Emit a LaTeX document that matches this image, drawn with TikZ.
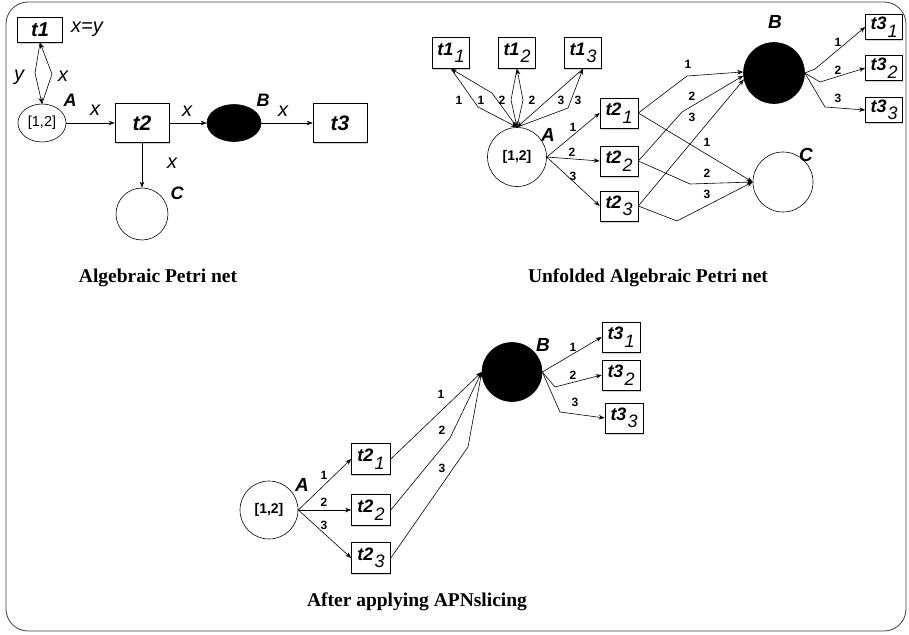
\documentclass[tikz,border=0pt]{standalone}
\usepackage{fontspec}
\setmainfont{Liberation Serif}
\setsansfont{Liberation Sans}
\usetikzlibrary{arrows.meta,shapes.geometric,shadows}
\newcommand{\tsb}[2]{\textbf{\textit{#1}}\kern1pt\raisebox{-0.42em}{\textit{#2}}}
\tikzset{
  trans/.style={draw, fill=white, line width=0.6pt, inner sep=0pt,
    drop shadow={shadow xshift=0.8pt, shadow yshift=-1.6pt, opacity=0.35},
    font=\sffamily\bfseries\itshape\fontsize{21}{24}\selectfont},
  utrans/.style={draw, fill=white, line width=0.6pt, inner sep=0pt,
    minimum width=38pt, minimum height=30pt,
    drop shadow={shadow xshift=0.8pt, shadow yshift=-1.6pt, opacity=0.35},
    font=\sffamily\fontsize{18}{20}\selectfont},
  place/.style={draw, ellipse, line width=0.6pt, inner sep=0pt},
  arc/.style={-{Stealth[length=6pt,width=4.5pt]}, line width=0.6pt},
  lbl/.style={font=\sffamily\bfseries\itshape\fontsize{18}{20}\selectfont, inner sep=0pt},
  ulbl/.style={font=\sffamily\bfseries\itshape\fontsize{19}{21}\selectfont, inner sep=0pt},
  vlab/.style={font=\sffamily\itshape\fontsize{20}{22}\selectfont, inner sep=0pt},
  num/.style={font=\sffamily\bfseries\fontsize{12}{14}\selectfont, inner sep=0pt},
  captxt/.style={font=\rmfamily\bfseries\fontsize{19.5}{22}\selectfont, inner sep=0pt},
  mark12/.style={font=\sffamily\bfseries\fontsize{14}{16}\selectfont},
}
\begin{document}
\begin{tikzpicture}[x=1pt,y=-1pt]
\useasboundingbox (0,0) rectangle (909,634);
\draw[line width=0.8pt, draw=black!75, rounded corners=22pt] (6,2) rectangle (906,631);

% ---------------- Algebraic Petri net ----------------
\node[trans, minimum width=45pt, minimum height=25pt, font=\sffamily\bfseries\itshape\fontsize{20}{22}\selectfont] (t1) at (40,30) {t1};
\node[vlab] (xy) at (87,29) {x=y};
\node[place, minimum width=48pt, minimum height=38pt, font=\sffamily\fontsize{14.5}{16}\selectfont] (A) at (42,123) {[1,2]};
\node[lbl] (Al) at (70,100) {A};
\coordinate (b1) at (35,73);
\coordinate (b2) at (52,74);
\draw[arc] (t1.south) -- (b1) -- (A.north);
\draw[arc] (A.north) -- (b2) -- (t1.south);
\node[vlab] (ly) at (19,77) {y};
\node[vlab] (lx1) at (63,76) {x};
\node[trans, minimum width=54pt, minimum height=39pt] (t2) at (142,123) {t2};
\node[trans, minimum width=54pt, minimum height=39pt] (t3) at (340,123) {t3};
\node[place, fill=black, minimum width=54pt, minimum height=37pt] (B) at (234,123) {};
\node[place, minimum width=52pt, minimum height=52pt] (C) at (142,214) {};
\node[lbl] (Bl) at (263,100) {B};
\node[lbl] (Cl) at (177,193) {C};
\draw[arc] (A.east) -- (t2.west);
\draw[arc] (t2.east) -- (B.west);
\draw[arc] (B.east) -- (t3.west);
\draw[arc] (t2.south) -- (C.north);
\node[vlab] (lx2) at (95,110) {x};
\node[vlab] (lx3) at (187,111) {x};
\node[vlab] (lx4) at (283,111) {x};
\node[vlab] (lx5) at (172,163) {x};
\node[captxt] (cap1) at (158,278) {Algebraic Petri net};

% ---------------- Unfolded Algebraic Petri net ----------------
\node[utrans, minimum width=37pt, minimum height=31pt] (u11) at (451,53) {\tsb{t1}{1}};
\node[utrans, minimum width=37pt, minimum height=31pt] (u12) at (517,53) {\tsb{t1}{2}};
\node[utrans, minimum width=37pt, minimum height=31pt] (u13) at (583,53) {\tsb{t1}{3}};
\node[place, minimum width=59pt, minimum height=59pt, mark12] (UA) at (517,157) {[1,2]};
\node[ulbl] (UAl) at (548,135) {A};
\coordinate (k1) at (478,107);
\coordinate (k2) at (492,93);
\coordinate (k3) at (511,100);
\coordinate (k4) at (523,100);
\coordinate (k5) at (568,108);
\draw[arc] (u11.south) -- (k1) -- (UA.north);
\draw[arc] (UA.north) -- (k2) -- (u11.south);
\draw[arc] (u12.south) -- (k3) -- (UA.north);
\draw[arc] (UA.north) -- (k4) -- (u12.south);
\draw[arc] (u13.south) -- (UA.north);
\draw[arc] (UA.north) -- (k5) -- (u13.south);
\node[num] at (459,100) {1};
\node[num] at (481,100) {1};
\node[num] at (502,100) {2};
\node[num] at (532,100) {2};
\node[num] at (561,100) {3};
\node[num] at (578,100) {3};

\node[utrans] (u21) at (619,113) {\tsb{t2}{1}};
\node[utrans] (u22) at (619,161) {\tsb{t2}{2}};
\node[utrans] (u23) at (619,206) {\tsb{t2}{3}};
\draw[arc] (UA.east) -- (u21.west);
\draw[arc] (UA.east) -- (u22.west);
\draw[arc] (UA.east) -- (u23.west);
\node[num] at (573,127) {1};
\node[num] at (572,152) {2};
\node[num] at (573,176) {3};

\node[place, fill=black, minimum width=61pt, minimum height=61pt] (UB) at (774,73) {};
\node[place, minimum width=60pt, minimum height=60pt] (UC) at (783,182) {};
\node[ulbl] (UBl) at (775,22) {B};
\node[ulbl] (UCl) at (806,155) {C};
\coordinate (m1) at (687,76);
\coordinate (m2) at (682,112);
\draw[arc] (u21.east) -- (m1) -- (UB.178);
\draw[arc] (u22.east) -- (m2) -- (UB.185);
\draw[arc] (u23.east) -- (UB.192);
\node[num] at (688,64) {1};
\node[num] at (692,96) {2};
\node[num] at (692,117) {3};
\coordinate (n2) at (690,184);
\coordinate (n3) at (677,221);
\draw[arc] (u21.east) -- (UC.west);
\draw[arc] (u22.east) -- (n2) -- (UC.west);
\draw[arc] (u23.east) -- (n3) -- (UC.west);
\node[num] at (707,142) {1};
\node[num] at (707,173) {2};
\node[num] at (707,194) {3};

\node[utrans, minimum width=37pt, minimum height=25pt] (u31) at (884,27) {\tsb{t3}{1}};
\node[utrans, minimum width=37pt, minimum height=25pt] (u32) at (884,68) {\tsb{t3}{2}};
\node[utrans, minimum width=37pt, minimum height=25pt] (u33) at (884,110) {\tsb{t3}{3}};
\coordinate (p1) at (815,69);
\coordinate (p2) at (820,82);
\coordinate (p3) at (825,107);
\draw[arc] (UB.east) -- (p1) -- (u31.west);
\draw[arc] (UB.east) -- (p2) -- (u32.west);
\draw[arc] (UB.east) -- (p3) -- (u33.west);
\node[num] at (838,42) {1};
\node[num] at (838,70) {2};
\node[num] at (838,98) {3};
\node[captxt] (cap2) at (648,278) {Unfolded Algebraic Petri net};

% ---------------- After applying APNslicing ----------------
\node[place, minimum width=58pt, minimum height=58pt, mark12] (SA) at (269,510) {[1,2]};
\node[ulbl] (SAl) at (302,485) {A};
\node[utrans, minimum width=39pt, minimum height=31pt] (s21) at (371,459) {\tsb{t2}{1}};
\node[utrans, minimum width=39pt, minimum height=31pt] (s22) at (371,510) {\tsb{t2}{2}};
\node[utrans, minimum width=39pt, minimum height=31pt] (s23) at (371,558) {\tsb{t2}{3}};
\draw[arc] (SA.east) -- (s21.west);
\draw[arc] (SA.east) -- (s22.west);
\draw[arc] (SA.east) -- (s23.west);
\node[num] at (324,475) {1};
\node[num] at (324,502) {2};
\node[num] at (324,525) {3};
\node[place, fill=black, minimum width=60pt, minimum height=59pt] (SB) at (512,372) {};
\node[ulbl] (SBl) at (543,345) {B};
\coordinate (q2) at (450,438);
\coordinate (q3) at (468,447);
\draw[arc] (s21.east) -- (SB.west);
\draw[arc] (s22.east) -- (q2) -- (SB.west);
\draw[arc] (s23.east) -- (q3) -- (SB.west);
\node[num] at (441,394) {1};
\node[num] at (442,430) {2};
\node[num] at (442,468) {3};
\node[utrans] (s31) at (621,337) {\tsb{t3}{1}};
\node[utrans] (s32) at (621,375) {\tsb{t3}{2}};
\node[utrans] (s33) at (624,418) {\tsb{t3}{3}};
\coordinate (r2) at (555,387);
\coordinate (r3) at (560,412);
\draw[arc] (SB.east) -- (s31.west);
\draw[arc] (SB.east) -- (r2) -- (s32.west);
\draw[arc] (SB.east) -- (r3) -- (s33.west);
\node[num] at (573,347) {1};
\node[num] at (573,375) {2};
\node[num] at (575,402) {3};
\node[captxt] (cap3) at (417,602) {After applying APNslicing};
\end{tikzpicture}
\end{document}
